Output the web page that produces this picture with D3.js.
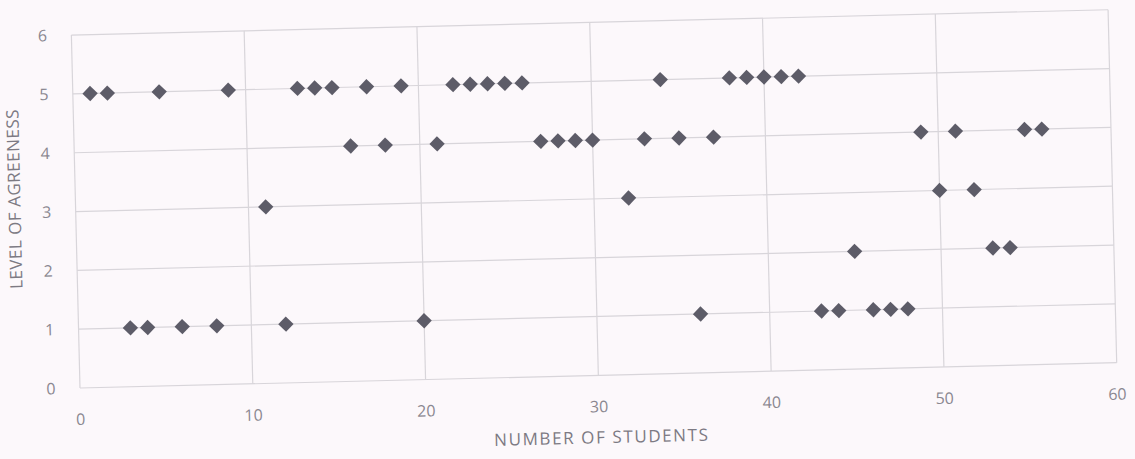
<!DOCTYPE html>
<html>
<head>
<meta charset="utf-8">
<script src="https://cdn.jsdelivr.net/npm/d3@7"></script>
<style>
  html, body { margin: 0; padding: 0; background: #fcf8fb; }
  svg { display: block; }
</style>
</head>
<body>
<div id="chart"></div>
<script>
// agreement level per student
var level5 = [1, 2, 5, 9, 13, 14, 15, 17, 19, 22, 23, 24, 25, 26, 34, 38, 39, 40, 41, 42];
var level4 = [16, 18, 21, 27, 28, 29, 30, 33, 35, 37, 49, 51, 55, 56];
var level3 = [11, 32, 50, 52];
var level2 = [45, 53, 54];
var level1 = [3, 4, 6, 8, 12, 20, 36, 43, 44, 46, 47, 48];

var xTicks = [0, 10, 20, 30, 40, 50, 60];
var yTicks = [0, 1, 2, 3, 4, 5, 6];

var width = 1135,
    height = 459,
    originX = 80,
    originY = 388,
    plotW = 1037,
    plotH = 353,
    tilt = -1.4; // the scan is slightly rotated

var points = [];
[[5, level5], [4, level4], [3, level3], [2, level2], [1, level1]].forEach(function(row) {
    row[1].forEach(function(s) { points.push({ student: s, level: row[0] }); });
});

var x = d3.scaleLinear().domain([0, 60]).range([0, plotW]);
var y = d3.scaleLinear().domain([0, 6]).range([plotH, 0]);

var svg = d3.select("#chart").append("svg")
    .attr("width", width)
    .attr("height", height);

var g = svg.append("g")
    .attr("transform", "rotate(" + tilt + "," + originX + "," + originY + ") translate(" + originX + "," + (originY - plotH) + ")")
    .attr("font-family", "'Open Sans', sans-serif");

// grid
g.selectAll(".hgrid")
    .data(yTicks)
  .enter().append("line")
    .attr("x1", 0)
    .attr("x2", plotW)
    .attr("y1", function(d) { return y(d); })
    .attr("y2", function(d) { return y(d); })
    .attr("stroke", "#d8d5da")
    .attr("stroke-width", 1.2);

g.selectAll(".vgrid")
    .data(xTicks)
  .enter().append("line")
    .attr("x1", function(d) { return x(d); })
    .attr("x2", function(d) { return x(d); })
    .attr("y1", 0)
    .attr("y2", plotH)
    .attr("stroke", "#d8d5da")
    .attr("stroke-width", 1.2);

// tick labels
g.selectAll(".ylab")
    .data(yTicks)
  .enter().append("text")
    .attr("x", -29)
    .attr("y", function(d) { return y(d); })
    .attr("dy", ".35em")
    .attr("text-anchor", "middle")
    .attr("fill", "#8a8790")
    .style("font-size", "16px")
    .text(function(d) { return d; });

g.selectAll(".xlab")
    .data(xTicks)
  .enter().append("text")
    .attr("x", function(d) { return x(d); })
    .attr("y", plotH + 37)
    .attr("text-anchor", "middle")
    .attr("fill", "#8a8790")
    .style("font-size", "16px")
    .text(function(d) { return d; });

g.append("text")
    .attr("x", plotW / 2 + 2)
    .attr("y", plotH + 68)
    .attr("text-anchor", "middle")
    .attr("fill", "#7d7a83")
    .style("font-size", "17px")
    .style("letter-spacing", "1.6px")
    .text("NUMBER OF STUDENTS");

g.append("text")
    .attr("transform", "translate(-55," + (plotH / 2 - 14) + ") rotate(-90)")
    .attr("text-anchor", "middle")
    .attr("fill", "#7d7a83")
    .style("font-size", "17px")
    .style("letter-spacing", "0.5px")
    .text("LEVEL OF AGREENESS");

// markers
g.selectAll(".pt")
    .data(points)
  .enter().append("path")
    .attr("d", d3.symbol().type(d3.symbolDiamond2).size(150))
    .attr("transform", function(d) { return "translate(" + x(d.student) + "," + y(d.level) + ")"; })
    .attr("fill", "#5d5c68");
</script>
</body>
</html>
